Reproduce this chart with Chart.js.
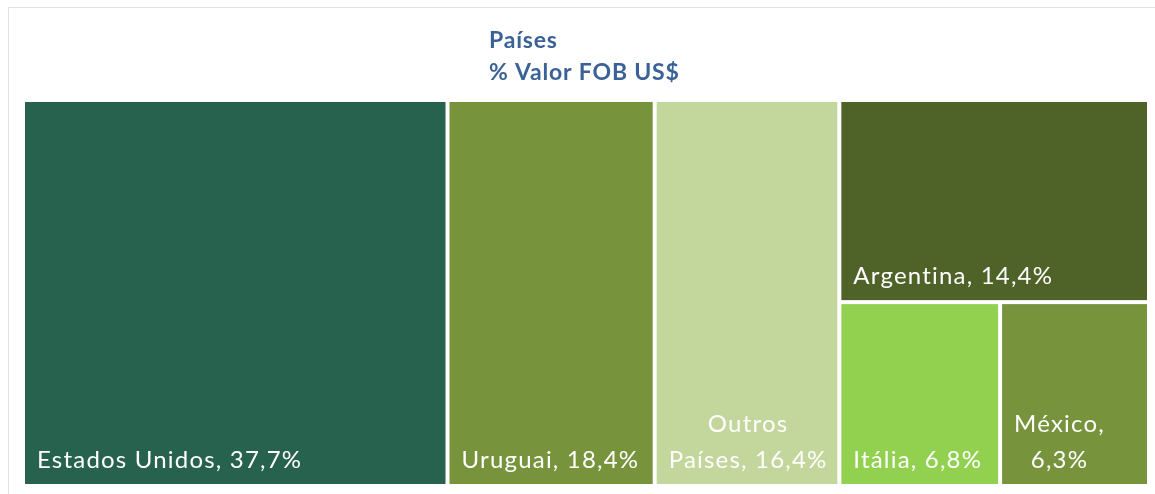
<!DOCTYPE html>
<html lang="pt-BR">
<head>
<meta charset="utf-8">
<title>Países - % Valor FOB US$</title>
<script src="https://cdn.jsdelivr.net/npm/chart.js@4.4.1/dist/chart.umd.min.js"></script>
<style>
    html, body { margin: 0; padding: 0; background: #ffffff; }
    #wrap { position: absolute; left: 0; top: 0; width: 1155px; height: 494px; overflow: hidden; background: #ffffff; }
    #frame { position: absolute; left: 8px; top: 7px; width: 1160px; height: 500px; border: 1px solid #e2e2e2; box-sizing: border-box; }
    canvas { position: absolute; left: 0; top: 0; }
</style>
</head>
<body>
<div id="wrap">
    <div id="frame"></div>
    <canvas id="chart" width="1155" height="494"></canvas>
</div>
<script>
// ---------- dados ----------
const paises = ['Estados Unidos', 'Uruguai', 'Outros Países', 'Argentina', 'Itália', 'México'];
const valores = [37.7, 18.4, 16.4, 14.4, 6.8, 6.3];
const cores = ['#27624e', '#77933c', '#c3d69b', '#4f6228', '#92d050', '#77933c'];
const titulo = ['Países', '% Valor FOB US$'];

const ctx = document.getElementById('chart');

const fmt = v => v.toFixed(1).replace('.', ',') + '%';

// ---------- layout do treemap (unidades de dados 0..100) ----------
// as tres primeiras categorias ocupam colunas inteiras; a ultima coluna
// e dividida: a primeira em cima, as restantes lado a lado embaixo
function layoutTreemap(vals) {
    const total = vals.reduce((a, b) => a + b, 0);
    const rects = [];
    let x = 0;
    for (let i = 0; i < 3; i++) {
        const w = vals[i] / total * 100;
        rects.push({ x0: x, x1: x + w, y0: 0, y1: 100 });
        x += w;
    }
    const resto = vals.slice(3);
    const somaResto = resto.reduce((a, b) => a + b, 0);
    const hTop = resto[0] / somaResto * 100;
    rects.push({ x0: x, x1: 100, y0: 0, y1: hTop });
    const somaBaixo = somaResto - resto[0];
    let xb = x;
    for (let i = 1; i < resto.length; i++) {
        const w = resto[i] / somaBaixo * (100 - x);
        rects.push({ x0: xb, x1: xb + w, y0: hTop, y1: 100 });
        xb += w;
    }
    return rects;
}

const rects = layoutTreemap(valores);

// quebra de linha a partir do fim (a ultima linha fica cheia)
function wrapText(c, text, maxWidth) {
    const words = text.split(' ');
    const lines = [];
    let line = '';
    for (let i = words.length - 1; i >= 0; i--) {
        const test = line ? words[i] + ' ' + line : words[i];
        if (line && c.measureText(test).width > maxWidth) {
            lines.unshift(line);
            line = words[i];
        } else {
            line = test;
        }
    }
    if (line) lines.unshift(line);
    return lines;
}

const treemapPlugin = {
    id: 'treemap',
    afterDatasetsDraw(chart) {
        const c = chart.ctx;
        const xs = chart.scales.x;
        const ys = chart.scales.y;
        const gap = 2;

        c.save();
        rects.forEach((r, i) => {
            const left = xs.getPixelForValue(r.x0) + gap;
            const right = xs.getPixelForValue(r.x1) - gap;
            const top = ys.getPixelForValue(r.y0) + gap;
            const bottom = ys.getPixelForValue(r.y1) - gap;

            c.fillStyle = cores[i];
            c.fillRect(left, top, right - left, bottom - top);

            // rotulo
            c.font = '24px Lato, "Open Sans", sans-serif';
            c.letterSpacing = '1.2px';
            c.fillStyle = '#ffffff';
            c.textBaseline = 'alphabetic';
            const label = paises[i] + ', ' + fmt(valores[i]);
            const lines = wrapText(c, label, right - left - 10);
            const blockW = Math.max(...lines.map(l => c.measureText(l).width));
            const lineH = 36;
            const bx = left + 12;
            let by = bottom - 16 - (lines.length - 1) * lineH;
            c.textAlign = 'center';
            lines.forEach(l => {
                c.fillText(l, bx + blockW / 2, by);
                by += lineH;
            });
        });

        // titulo
        c.font = 'bold 23px Lato, "Open Sans", sans-serif';
        c.letterSpacing = '0.8px';
        c.fillStyle = '#3a6296';
        c.textAlign = 'left';
        c.fillText(titulo[0], 489, 48);
        c.fillText(titulo[1], 489, 80);
        c.restore();
    }
};

const chart = new Chart(ctx, {
    type: 'scatter',
    data: {
        datasets: [{
            label: 'Países',
            data: rects.map(r => ({ x: (r.x0 + r.x1) / 2, y: (r.y0 + r.y1) / 2 })),
            pointRadius: 0,
            pointHoverRadius: 0
        }]
    },
    options: {
        responsive: false,
        animation: false,
        layout: {
            padding: { left: 23, right: 6, top: 100, bottom: 8 }
        },
        plugins: {
            legend: { display: false },
            title: { display: false },
            tooltip: { enabled: false }
        },
        scales: {
            x: { type: 'linear', min: 0, max: 100, display: false },
            y: { type: 'linear', min: 0, max: 100, reverse: true, display: false }
        }
    },
    plugins: [treemapPlugin]
});
</script>
</body>
</html>
